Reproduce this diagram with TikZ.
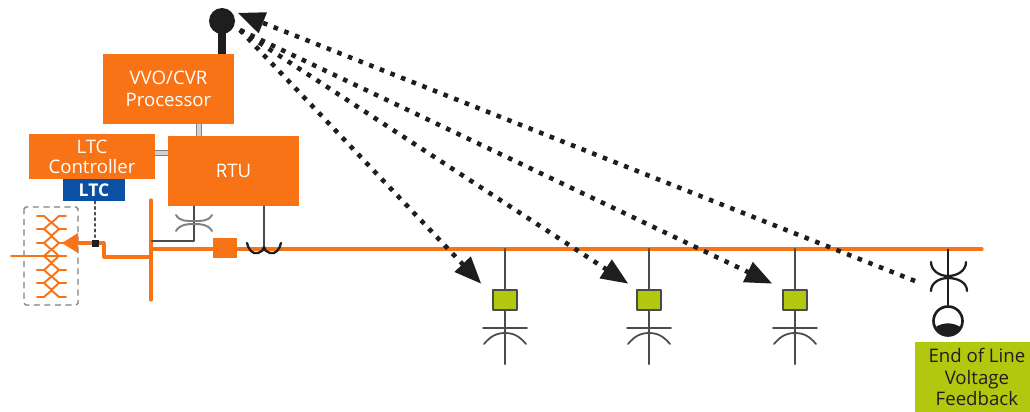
\documentclass[tikz,border=0pt]{standalone}
\usepackage{fontspec}
\setmainfont{Open Sans}
\usepackage{pgf,tikz}
\usetikzlibrary{arrows}
\definecolor{ltcorange}{RGB}{247,115,22}
\definecolor{ltcblue}{RGB}{10,80,165}
\definecolor{capgreen}{RGB}{178,200,15}
\definecolor{wiregray}{RGB}{75,75,75}
\definecolor{inkblack}{RGB}{30,30,30}
\tikzset{
  orangebox/.style={fill=ltcorange,text=white,inner sep=0pt,align=center,font=\fontsize{10.6}{12.6}\selectfont},
  busline/.style={draw=ltcorange,line width=1.8pt},
  wire/.style={draw=wiregray,line width=1.2pt},
  commlink/.style={draw=gray,double=white!65!gray,line width=1pt,double distance=1.8pt,line cap=butt},
  radiolink/.style={draw=inkblack,line width=2.6pt,line cap=butt,dash pattern=on 2.6pt off 3.9pt,>=triangle 45},
  coil/.style={draw=ltcorange,line width=1.1pt}
}
\begin{document}
\begin{tikzpicture}[line cap=round,line join=round,x=0.02cm,y=-0.02cm]
\useasboundingbox (0,0) rectangle (1030,412);
\node[orangebox,minimum width=131*0.02cm,minimum height=70*0.02cm] (vvo) at (168.5,89) {VVO/CVR\\Processor};
\node[orangebox,font=\fontsize{10.6}{11.4}\selectfont,minimum width=126*0.02cm,minimum height=45*0.02cm] (ctrl) at (92,156.5) {LTC\\Controller};
\node[orangebox,minimum width=131*0.02cm,minimum height=70*0.02cm] (rtu) at (233.5,171) {RTU};
\node[fill=ltcblue,text=white,inner sep=0pt,minimum width=62*0.02cm,minimum height=22*0.02cm,font=\fontsize{10}{11}\selectfont\bfseries] (ltc) at (94,190) {LTC};
\node[circle,fill=inkblack,inner sep=0pt,minimum size=26*0.02cm] (ant) at (222,21) {};
\coordinate (vvolink) at (199,130);
\coordinate (ctrllink) at (160,153);
\draw[draw=inkblack,line width=4pt,line cap=butt] (ant.center) -- (ant.center |- vvo.north);
\draw[commlink] (vvolink |- vvo.south) -- (vvolink |- rtu.north);
\draw[commlink] (ctrl.east |- ctrllink) -- (rtu.west |- ctrllink);
% tap changer
\draw[draw=gray,line width=0.8pt,dashed,rounded corners=1pt] (24,207) rectangle (78,305);
\foreach \y in {216,229,243,256,270,283}
{
\draw[coil] (37,\y) -- (44,\y) -- (51.5,\y+6.7) -- (59,\y) -- (66,\y);
}
\foreach \y in {229,243,256,270,283,297}
{
\draw[coil] (37,\y) -- (44,\y) -- (51.5,\y-6.7) -- (59,\y) -- (66,\y);
}
\draw[coil] (11,256) -- (66,256);
\node[fill=inkblack,inner sep=0pt,minimum size=7*0.02cm] (tapdot) at (95,243) {};
\coordinate (taptip) at (62,243);
\fill[ltcorange] (taptip) -- (78,233) -- (78,253) -- cycle;
\draw[draw=inkblack!80,line width=1.2pt,dotted] (ltc.south -| tapdot) -- (tapdot);
% bus and feeder
\coordinate (busjoin) at (151,257);
\coordinate (bustop) at (151,200);
\coordinate (busend) at (151,300);
\coordinate (feedstart) at (151,249);
\coordinate (feedend) at (982,249);
\draw[busline] (78,243) -- (tapdot) -- (104,243) -- (104,257) -- (busjoin);
\draw[busline] (bustop) -- (busend);
\draw[busline] (feedstart) -- (feedend);
\node[fill=ltcorange,inner sep=0pt,minimum width=24*0.02cm,minimum height=20*0.02cm] (breaker) at (225,248) {};
\node[fill=inkblack,inner sep=0pt,minimum size=7*0.02cm] at (tapdot) {};
% rtu potential and current
\coordinate (ptx) at (194,241);
\coordinate (ctx) at (264,250);
\draw[wire] (152,241) -- (ptx) -- (ptx |- rtu.south);
\draw[draw=gray,line width=1.1pt] (176,215) to[out=-60,in=180] (194,221) to[out=0,in=-120] (212,215);
\draw[draw=gray,line width=1.1pt] (176,231) to[out=60,in=180] (194,224) to[out=0,in=120] (212,231);
\draw[wire] (ctx |- rtu.south) -- (ctx);
\draw[draw=inkblack,line width=1.3pt] (247,243) to[out=-80,in=200] (258,253) to[out=20,in=-90] (264,247) to[out=-90,in=160] (270,253) to[out=-20,in=-100] (281,243);
% capacitors
\foreach \x/\n/\t in {505/a/481,649/b/628,795/c/772}
{
\draw[wire] (\x,249) -- (\x,364);
\node[draw=wiregray,line width=1.2pt,fill=capgreen,inner sep=0pt,minimum width=24*0.02cm,minimum height=20*0.02cm] (cap\n) at (\x,300) {};
\draw[wire,line width=1pt] (\x-22,328) -- (\x+22,328);
\draw[wire,line width=1pt] (\x-21,344) to[out=50,in=180] (\x,333) to[out=0,in=130] (\x+21,344);
\coordinate (tip\n) at (\t,283.5);
}
% end of line
\node[circle,draw=inkblack,line width=1.5pt,fill=white,inner sep=0pt,minimum width=29*0.02cm] (eol) at (948,321) {};
\fill[inkblack] (935.5,327) to[out=30,in=150] (960.5,327) arc (-25:-155:13.5*0.02cm and 13.5*0.02cm) -- cycle;
\coordinate (eoltop) at (948,249);
\draw[draw=inkblack,line width=1.3pt,line cap=butt] (eoltop) -- (eol.north);
\draw[draw=inkblack,line width=1.3pt] (931,262) to[out=-90,in=180] (948,276) to[out=0,in=-90] (966,262);
\draw[draw=inkblack,line width=1.3pt] (931,291) to[out=90,in=180] (948,278) to[out=0,in=90] (967,291);
\node[fill=capgreen,text=inkblack,inner sep=0pt,minimum width=115*0.02cm,minimum height=70*0.02cm,align=center,font=\fontsize{10.6}{12.2}\selectfont] (eolbox) at (972.5,377) {\hspace*{5pt}End of Line\\\hspace*{5pt}Voltage\\\hspace*{5pt}Feedback};
% radio links
\coordinate (hub) at (240,30);
\coordinate (anttip) at (238,13);
\coordinate (eolstart) at (915,281);
\draw[radiolink,->] (hub) -- (tipa);
\draw[radiolink,->] (hub) -- (tipb);
\draw[radiolink,->] (hub) -- (tipc);
\draw[radiolink,->] (eolstart) -- (anttip);
\end{tikzpicture}
\end{document}
